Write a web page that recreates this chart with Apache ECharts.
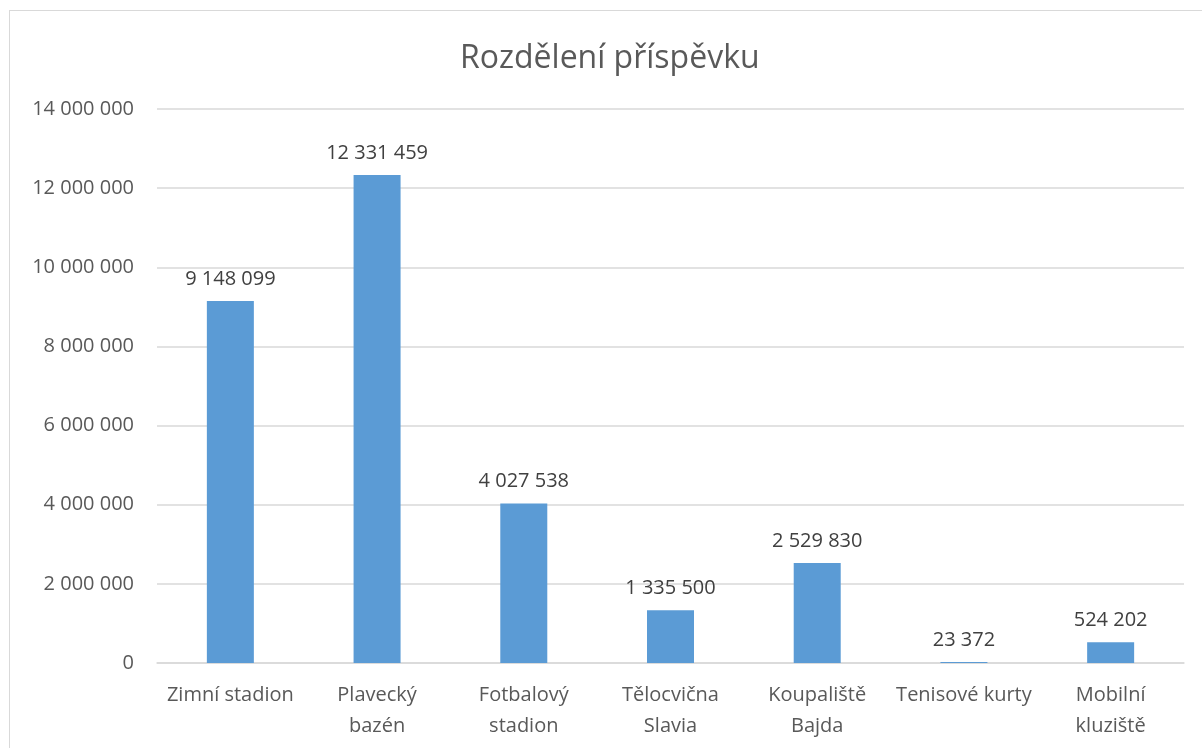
<!DOCTYPE html>
<html><head><meta charset="utf-8">
<script src="https://cdn.jsdelivr.net/npm/echarts@6/dist/echarts.min.js"></script>
<style>
html,body{margin:0;padding:0;background:#fff;}
#frame{position:absolute;left:9px;top:10px;width:1200px;height:745px;border:1px solid #d9d9d9;box-sizing:border-box;}
#c{position:absolute;left:0;top:0;width:1202px;height:748px;}
</style></head>
<body>
<div id="frame"></div>
<div id="c"></div>
<script>
const categories = ["Zimní stadion", "Plavecký\nbazén", "Fotbalový\nstadion", "Tělocvična\nSlavia", "Koupaliště\nBajda", "Tenisové kurty", "Mobilní\nkluziště"];
const values = [9148099, 12331459, 4027538, 1335500, 2529830, 23372, 524202];
const title = "Rozdělení příspěvku";

function fmt(v){ return String(v).replace(/\B(?=(\d{3})+(?!\d))/g, ' '); }

const chart = echarts.init(document.getElementById('c'));
const font = '"Open Sans", "Liberation Sans", sans-serif';
chart.setOption({
  animation:false,
  title:{text:title,left:455,top:38,textStyle:{fontFamily:font,fontSize:32,fontWeight:'normal',color:'#595959'}},
  grid:{left:157,right:18,top:109,bottom:85,containLabel:false},
  xAxis:{type:'category',data:categories,
    axisLine:{show:true,lineStyle:{color:'#d9d9d9',width:1.5}},
    axisTick:{show:false},
    axisLabel:{fontFamily:font,fontSize:20,color:'#595959',margin:17,lineHeight:31,interval:0}},
  yAxis:{type:'value',min:0,max:14000000,interval:2000000,
    axisLine:{show:false},axisTick:{show:false},
    splitLine:{lineStyle:{color:'#d9d9d9',width:1.5}},
    axisLabel:{fontFamily:font,fontSize:20,color:'#595959',margin:23,formatter:v=>fmt(v)}},
  series:[{type:'bar',data:values,barWidth:47,itemStyle:{color:'#5b9bd5'},
    label:{show:true,position:'top',distance:12,fontFamily:font,fontSize:20,color:'#404040',formatter:p=>fmt(p.value)}}]
});
</script>
</body></html>
